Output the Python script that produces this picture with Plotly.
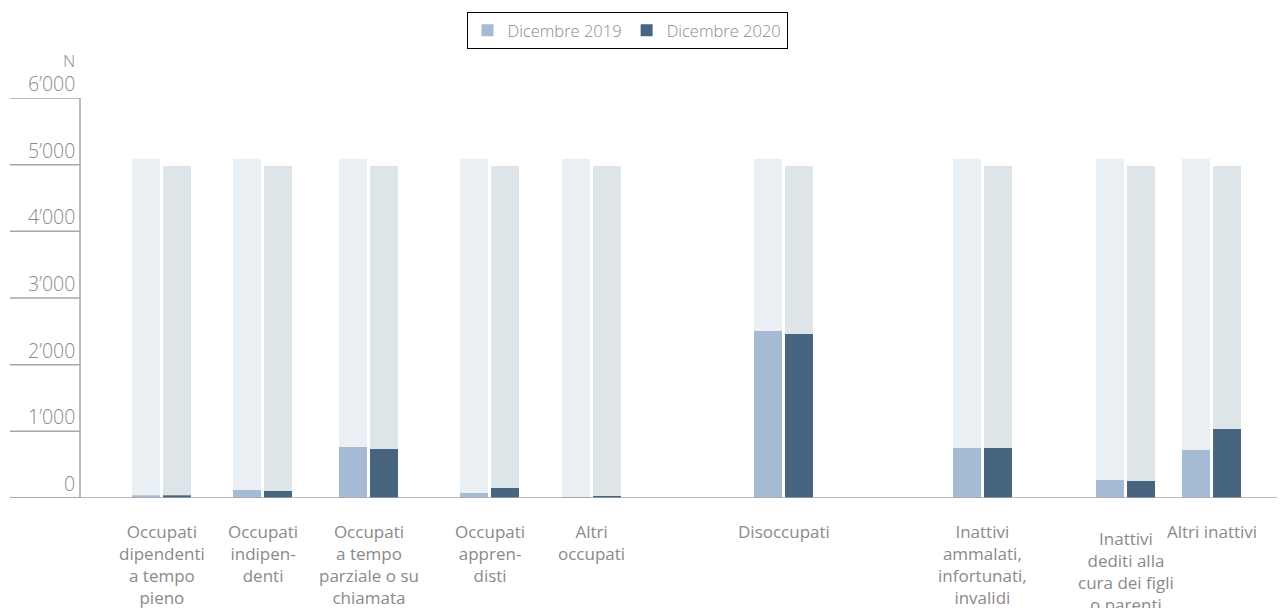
import plotly.graph_objects as go

categories = [
    "Occupati<br>dipendenti<br>a tempo<br>pieno",
    "Occupati<br>indipen-<br>denti",
    "Occupati<br>a tempo<br>parziale o su<br>chiamata",
    "Occupati<br>appren-<br>disti",
    "Altri<br>occupati",
    "Disoccupati",
    "Inattivi<br>ammalati,<br>infortunati,<br>invalidi",
    "Inattivi<br>dediti alla<br>cura dei figli<br>o parenti",
    "Altri inattivi",
]
dic2019 = [40, 120, 765, 75, 15, 2505, 750, 270, 720]
dic2020 = [40, 105, 735, 150, 20, 2460, 750, 255, 1035]
total2019 = [5090] * 9
total2020 = [4980] * 9
y_ticks = [0, 1000, 2000, 3000, 4000, 5000, 6000]
y_tick_labels = ["0", "1’000", "2’000", "3’000", "4’000", "5’000", "6’000"]

# layout: group centre positions (x axis in page-pixel units)
centers = [161.5, 262.5, 368.5, 489.5, 591.5, 783.5, 982.5, 1125.5, 1211.5]
label_shift = [0, 0, 0, 0, 0, 0, 0, -7, 0]

C19 = "#a4bbd3"
C20 = "#48657f"
BG19 = "#eaeff4"
BG20 = "#dee5e9"
GREY = "#8a8a8a"
LINE = "#a6a6a6"
FONT = "Open Sans"

PW = 1205  # plot width in px
fig = go.Figure()
fig.add_bar(x=centers, y=total2019, width=28, offset=-29.5, marker_color=BG19,
            marker_line_width=0, showlegend=False, hoverinfo="skip")
fig.add_bar(x=centers, y=total2020, width=28, offset=1.5, marker_color=BG20,
            marker_line_width=0, showlegend=False, hoverinfo="skip")
fig.add_bar(x=centers, y=dic2019, width=28, offset=-29.5, marker_color=C19,
            marker_line_width=0, name="Dicembre 2019")
fig.add_bar(x=centers, y=dic2020, width=28, offset=1.5, marker_color=C20,
            marker_line_width=0, name="Dicembre 2020")

shapes = []
x_left = -70 / PW
for v in y_ticks:
    shapes.append(dict(type="line", xref="paper", yref="y", x0=x_left, x1=0,
                       y0=v, y1=v, line=dict(color=LINE, width=1.5)))
shapes.append(dict(type="line", xref="paper", yref="y", x0=x_left, x1=1,
                   y0=0, y1=0, line=dict(color=LINE, width=1.5)))
shapes.append(dict(type="line", xref="paper", yref="y", x0=0, x1=0,
                   y0=0, y1=6000, line=dict(color=LINE, width=1.5)))

annotations = []
for v, t in zip(y_ticks, y_tick_labels):
    annotations.append(dict(xref="paper", yref="y", x=-3 / PW, y=v, text=t,
                            showarrow=False, xanchor="right", yanchor="bottom",
                            yshift=-1, font=dict(family=FONT, size=19.5, color=GREY, weight=300)))
annotations.append(dict(xref="paper", yref="y", x=-3 / PW, y=6000, text="N",
                        showarrow=False, xanchor="right", yanchor="bottom",
                        yshift=24, font=dict(family=FONT, size=17, color=GREY, weight=300)))
for c, t, s in zip(centers, categories, label_shift):
    annotations.append(dict(xref="x", yref="y", x=c, y=0, text=t, showarrow=False,
                            xanchor="center", yanchor="top", yshift=-20 + s,
                            font=dict(family=FONT, size=17, color=GREY, weight=400)))

fig.update_layout(
    width=1277, height=600,
    margin=dict(l=72, r=0, t=90, b=110),
    paper_bgcolor="white", plot_bgcolor="white",
    barmode="overlay",
    xaxis=dict(range=[80, 1285], visible=False, fixedrange=True),
    yaxis=dict(range=[0, 6000], visible=False, fixedrange=True),
    shapes=shapes, annotations=annotations,
    legend=dict(orientation="h", xref="container", yref="container",
                x=619 / 1277, xanchor="center", y=1 - 4 / 600, yanchor="top",
                bordercolor="#000000", borderwidth=1,
                font=dict(family=FONT, size=16.5, color=GREY, weight=300),
                itemwidth=30, tracegroupgap=0),
    font=dict(family=FONT, color=GREY),
)

fig.write_html("out.html")
